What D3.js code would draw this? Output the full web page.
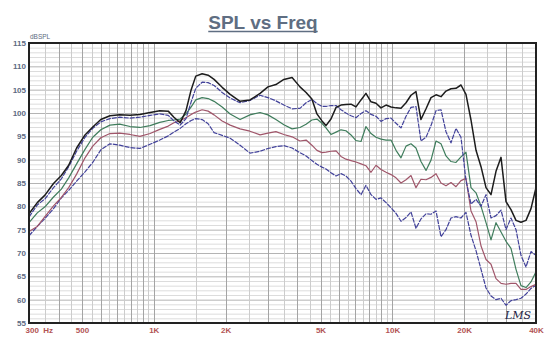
<!DOCTYPE html>
<html><head><meta charset="utf-8">
<script src="https://cdn.jsdelivr.net/npm/d3@7"></script>
<style>html,body{margin:0;padding:0;background:#fff;}svg{display:block;}</style>
</head><body>
<svg id="chart" width="560" height="344"></svg>
<script>
const freqs = [300,325,350,380,410,440,475,515,555,600,655,720,795,875,965,1060,1150,1215,1290,1365,1435,1500,1595,1690,1790,1935,2090,2300,2530,2790,3010,3250,3510,3800,4100,4350,4600,4830,5070,5270,5530,5810,6090,6390,6710,7040,7390,7750,8140,8540,8960,9410,9870,10360,10870,11410,11970,12560,13180,13840,14520,15240,15990,16780,17610,18480,19390,20350,21360,22420,23530,24690,25910,27190,28540,29950,31420,32980,34600,36320,38110,40000];

const splBlack = [78.4,80.8,82.4,84.9,86.6,88.8,92.5,95.3,97.0,98.6,99.4,99.6,99.5,99.7,100.1,100.5,100.4,99.1,97.9,100.5,105.0,107.9,108.4,108.1,107.2,105.5,104.0,102.5,102.8,104.2,105.6,106.1,107.2,107.6,105.6,104.4,103.0,99.8,98.3,97.3,98.7,101.2,101.7,101.8,101.9,101.3,102.8,104.2,102.4,102.1,101.1,101.7,101.3,101.1,101.0,102.2,103.8,104.6,98.6,100.9,103.3,103.9,103.5,104.7,105.2,105.3,106.0,104.0,98.5,92.0,88.5,84.0,82.5,87.5,90.5,81.0,79.3,77.0,76.6,77.0,79.5,84.0];

const splBlueHigh = [77.7,80.3,81.6,84.0,85.9,88.5,91.8,94.8,96.7,98.1,98.8,99.1,98.9,99.1,99.5,99.8,99.5,98.3,97.4,98.8,102.4,105.3,106.6,106.5,105.9,104.4,103.2,102.2,102.7,103.8,103.3,102.6,101.7,100.9,101.0,102.2,102.9,102.0,101.4,101.4,101.6,101.6,100.7,100.0,99.4,99.0,99.9,100.5,99.7,99.3,98.2,98.8,98.9,97.8,96.8,99.3,101.2,101.4,94.0,94.8,97.3,100.5,100.7,96.0,93.6,96.7,94.8,85.6,80.5,81.5,80.0,82.5,77.5,78.0,79.2,75.0,77.5,75.0,69.5,67.0,70.3,69.5];

const splGreen = [76.5,78.6,79.9,82.0,83.7,86.1,89.1,92.2,94.8,96.4,97.4,97.6,97.1,96.9,97.3,98.0,98.4,98.5,98.7,99.8,101.3,102.8,103.3,103.1,102.5,101.3,99.8,98.6,99.6,100.1,99.6,98.6,97.5,96.6,96.9,97.6,98.5,98.7,97.8,96.8,95.4,95.9,96.4,96.2,95.3,94.1,93.9,97.1,95.6,94.8,94.4,94.2,94.2,92.0,90.4,92.9,93.4,92.5,89.6,87.7,89.9,94.0,93.4,90.8,89.6,89.4,90.6,91.6,84.0,82.9,80.0,76.5,72.8,76.5,74.5,72.5,71.0,66.5,63.0,62.6,63.8,66.0];

const splRed = [74.6,75.7,77.8,80.1,81.9,84.0,86.9,90.4,92.9,94.7,95.6,95.7,95.4,95.0,95.6,96.5,97.2,97.9,98.4,99.0,99.7,100.2,100.7,100.4,99.6,98.3,97.4,96.6,96.1,95.3,95.7,96.0,95.4,94.9,94.0,94.2,93.1,92.0,91.5,91.6,91.8,91.9,90.7,90.1,89.8,89.5,89.1,88.7,87.3,88.8,87.9,87.3,86.8,86.1,85.0,85.7,86.6,84.0,85.8,85.7,86.2,87.0,85.0,84.4,85.1,84.2,85.5,86.0,79.0,76.7,71.5,68.6,67.6,64.5,63.5,63.3,63.5,63.5,62.2,62.2,62.8,63.3];

const splBlueLow = [73.7,75.7,77.4,79.5,81.8,83.4,85.4,87.4,89.4,92.1,93.4,93.1,92.6,92.4,93.3,94.2,95.1,95.9,96.7,97.7,98.4,98.8,98.6,97.7,95.8,95.2,94.6,93.1,91.4,91.8,92.4,92.8,93.0,92.5,91.5,90.8,89.8,89.0,88.4,88.0,87.2,86.5,87.0,86.5,85.4,83.8,82.5,84.5,82.5,81.5,81.8,80.8,79.7,78.5,76.8,77.6,78.8,75.3,77.3,78.4,78.3,79.0,73.5,75.0,77.5,77.8,77.5,78.7,73.8,70.5,66.5,62.5,60.8,60.0,60.3,58.8,59.8,60.0,60.3,61.2,62.4,63.1];

const seriesNames = ["blueLow","red","green","blueHigh","black"];
const seriesValues = [splBlueLow, splRed, splGreen, splBlueHigh, splBlack];
const seriesColors = ["#42429a","#a0566a","#3f7d5c","#42429a","#1c1c1c"];

const yTicks = [55,60,65,70,75,80,85,90,95,100,105,110,115];
const xTickValues = [300,500,1000,2000,5000,10000,20000,40000];
const xTickLabels = ["300  Hz","500","1K","2K","5K","10K","20K","40K"];

const W = 560, H = 344;
const m = {left: 29, right: 536, top: 43, bottom: 323};
const svg = d3.select("#chart");
const x = d3.scaleLog().domain([300, 40000]).range([m.left, m.right]);
const y = d3.scaleLinear().domain([55, 115]).range([m.bottom, m.top]);

// grid
const vMinor = [], vMajor = [];
for (let f = 300; f <= 1000; f += 50) (f % 100 === 0 ? vMajor : vMinor).push(f);
for (let f = 1500; f <= 10000; f += 500) (f % 1000 === 0 ? vMajor : vMinor).push(f);
for (let f = 15000; f <= 40000; f += 5000) (f % 10000 === 0 ? vMajor : vMinor).push(f);
const hMinor = d3.range(55, 116, 1).filter(v => v % 5 !== 0);
const hMajor = yTicks;

const g = svg.append("g");
g.selectAll(".hmin").data(hMinor).enter().append("line")
  .attr("x1", m.left).attr("x2", m.right).attr("y1", d => y(d)+0.5).attr("y2", d => y(d)+0.5)
  .attr("stroke", "#dcdcdc").attr("stroke-width", 1);
g.selectAll(".hmaj").data(hMajor).enter().append("line")
  .attr("x1", m.left).attr("x2", m.right).attr("y1", d => y(d)+0.5).attr("y2", d => y(d)+0.5)
  .attr("stroke", "#b4b4b4").attr("stroke-width", 1);
g.selectAll(".vmin").data(vMinor).enter().append("line")
  .attr("y1", m.top).attr("y2", m.bottom).attr("x1", d => Math.round(x(d))+0.5).attr("x2", d => Math.round(x(d))+0.5)
  .attr("stroke", "#cccccc").attr("stroke-width", 1);
g.selectAll(".vmaj").data(vMajor).enter().append("line")
  .attr("y1", m.top).attr("y2", m.bottom).attr("x1", d => Math.round(x(d))+0.5).attr("x2", d => Math.round(x(d))+0.5)
  .attr("stroke", "#a4a4a4").attr("stroke-width", 1);

// curves
const line = d3.line().x((d, i) => x(freqs[i])).y(d => y(d));
svg.append("g").selectAll("path").data(seriesValues).enter().append("path")
  .attr("d", d => line(d))
  .attr("fill", "none")
  .attr("stroke", (d, i) => seriesColors[i])
  .attr("stroke-width", (d, i) => i === 4 ? 1.5 : 1.2)
  .attr("stroke-dasharray", (d, i) => (i === 0 || i === 3) ? "5,1" : null)
  .attr("stroke-linejoin", "round");

// frame
svg.append("rect").attr("x", m.left).attr("y", m.top)
  .attr("width", m.right - m.left).attr("height", m.bottom - m.top)
  .attr("fill", "none").attr("stroke", "#222").attr("stroke-width", 2);

// y axis labels
const yAxis = d3.axisLeft(y).tickValues(yTicks).tickSize(0).tickPadding(3);
const ya = svg.append("g").attr("transform", `translate(${m.left},0)`).call(yAxis);
ya.select(".domain").remove();
ya.selectAll("text").attr("font-family", "Liberation Sans, Arial, sans-serif")
  .attr("font-size", 8).attr("font-weight", "bold").attr("fill", "#5d6a82");

// x axis labels
const xAxis = d3.axisBottom(x).tickValues(xTickValues).tickSize(0).tickPadding(4)
  .tickFormat((d, i) => xTickLabels[i]);
const xa = svg.append("g").attr("transform", `translate(0,${m.bottom})`).call(xAxis);
xa.select(".domain").remove();
xa.selectAll("text").attr("font-family", "Liberation Sans, Arial, sans-serif")
  .attr("font-size", 8).attr("font-weight", "bold").attr("fill", "#b25454")
  .attr("xml:space", "preserve").style("white-space", "pre")
  .attr("text-anchor", (d, i) => i === 0 ? "start" : "middle")
  .attr("dx", (d, i) => i === 0 ? -4 : 0);

// unit label
svg.append("text").attr("x", m.left + 1).attr("y", 39).text("dBSPL")
  .attr("font-family", "Liberation Sans, Arial, sans-serif").attr("font-size", 6.5)
  .attr("fill", "#5d6a82");

// title
const title = svg.append("text").attr("x", 263).attr("y", 29).attr("text-anchor", "middle")
  .text("SPL vs Freq")
  .attr("font-family", "Liberation Sans, Arial, sans-serif").attr("font-size", 19)
  .attr("font-weight", "bold").attr("fill", "#5f6e82");
const bb = title.node().getBBox();
svg.append("line").attr("x1", bb.x).attr("x2", bb.x + bb.width).attr("y1", 31.5).attr("y2", 31.5)
  .attr("stroke", "#5f6e82").attr("stroke-width", 1.5);

// LMS mark
svg.append("text").attr("x", 505).attr("y", 319).text("LMS")
  .attr("font-family", "DejaVu Serif, serif").attr("font-style", "italic")
  .attr("font-size", 11).attr("fill", "#222244");
</script>
</body></html>
